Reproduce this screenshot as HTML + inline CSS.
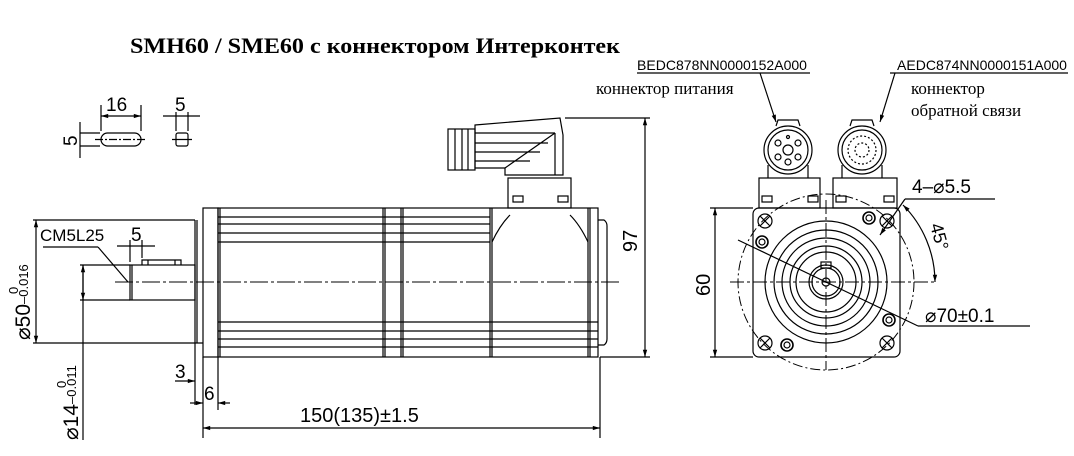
<!DOCTYPE html>
<html><head><meta charset="utf-8"><style>html,body{margin:0;padding:0;background:#fff}svg{display:block}</style></head>
<body>
<svg width="1074" height="456" viewBox="0 0 1074 456" xmlns="http://www.w3.org/2000/svg" font-family="Liberation Sans, sans-serif">
<defs>
<marker id="a" viewBox="0 0 10 10" refX="10" refY="5" markerWidth="8" markerHeight="6" orient="auto-start-reverse"><path d="M0,2 L10,5 L0,8z" fill="#000"/></marker>
</defs>
<rect width="1074" height="456" fill="#fff"/>
<text x="130" y="53" font-family="Liberation Serif, serif" font-weight="bold" font-size="22" textLength="490" lengthAdjust="spacingAndGlyphs">SMH60 / SME60 с коннектором Интерконтек</text>
<g fill="none" stroke="#000" stroke-width="1.2">
<!-- key detail -->
<rect x="101" y="133" width="40" height="13" rx="6.5"/>
<line x1="95" y1="139.5" x2="147" y2="139.5" stroke-dasharray="8 2 2 2"/>
<line x1="101" y1="105" x2="101" y2="131"/><line x1="141" y1="105" x2="141" y2="131"/>
<line x1="101" y1="116" x2="141" y2="116" marker-start="url(#a)" marker-end="url(#a)"/>
<rect x="176" y="133" width="12" height="13" rx="2"/>
<line x1="172" y1="139.5" x2="192" y2="139.5"/>
<line x1="176" y1="112" x2="176" y2="131"/><line x1="188" y1="112" x2="188" y2="131"/>
<line x1="163" y1="116" x2="200" y2="116"/>
<line x1="80" y1="133" x2="100" y2="133"/><line x1="80" y1="146" x2="100" y2="146"/>
<line x1="80" y1="122" x2="80" y2="158"/>
<!-- flange & body -->
<rect x="203" y="208" width="15" height="149"/>
<rect x="218" y="208" width="380" height="149"/>
<line x1="220" y1="208" x2="220" y2="357"/>
<path d="M218 217H490M218 224H490M218 233H490M218 242H490"/>
<path d="M218 322H598M218 331H598M218 339H598M218 347H598"/>
<path d="M383 208V357M385 208V357M401 208V357M403 208V357M490 208V357M492 208V357M588 208V357M590 208V357"/>
<path d="M492 242 Q500 225 510 215 M588 242 Q580 225 570 215"/>
<path d="M598 220 H604 Q607 222 607 226 V339 Q607 343 604 345 H598"/>
<!-- shaft -->
<rect x="130" y="265" width="65" height="35"/>
<line x1="132" y1="265" x2="132" y2="300"/>
<path d="M142 265V260H181V265M148 260V265M175 260V265"/>
<line x1="195" y1="220" x2="195" y2="343"/>
<line x1="197" y1="220" x2="197" y2="343"/>
<line x1="115" y1="282" x2="620" y2="282" stroke-dasharray="18 3 3 3" stroke-width="1"/>
<!-- side connector -->
<rect x="448" y="129" width="27" height="41"/>
<path d="M455 129V170M462 129V170M468 129V170"/>
<path d="M475 125 L560 118 L563 135 V175 H505 V168 H475Z"/>
<path d="M475 133H555M475 143H548M475 152H540M475 161H530M505 168L555 133M555 133V175"/>
<rect x="508" y="178" width="63" height="30"/>
<rect x="513" y="196" width="10" height="6"/><rect x="558" y="196" width="10" height="6"/>
<!-- dims left -->
<line x1="33" y1="220" x2="195" y2="220"/><line x1="33" y1="343" x2="203" y2="343"/>
<line x1="36" y1="220" x2="36" y2="343" marker-start="url(#a)" marker-end="url(#a)"/>
<line x1="80" y1="265" x2="130" y2="265"/><line x1="80" y1="300" x2="130" y2="300"/>
<line x1="83" y1="265" x2="83" y2="440"/>
<line x1="83" y1="282" x2="83" y2="265" marker-end="url(#a)"/>
<line x1="83" y1="282" x2="83" y2="300" marker-end="url(#a)"/>
<line x1="43" y1="247" x2="98" y2="247"/><line x1="98" y1="247" x2="128" y2="282"/>
<line x1="117" y1="246" x2="155" y2="246"/>
<line x1="130" y1="240" x2="130" y2="262"/><line x1="142" y1="240" x2="142" y2="258"/>
<line x1="195" y1="343" x2="195" y2="405"/><line x1="203" y1="357" x2="203" y2="438"/><line x1="218" y1="357" x2="218" y2="410"/>
<line x1="175" y1="381" x2="195" y2="381" marker-end="url(#a)"/>
<line x1="190" y1="403" x2="203" y2="403" marker-end="url(#a)"/>
<line x1="230" y1="403" x2="218" y2="403" marker-end="url(#a)"/>
<line x1="600" y1="357" x2="600" y2="438"/>
<line x1="203" y1="428" x2="600" y2="428" marker-start="url(#a)" marker-end="url(#a)"/>
<line x1="565" y1="118" x2="650" y2="118"/><line x1="600" y1="357" x2="650" y2="357"/>
<line x1="645" y1="118" x2="645" y2="357" marker-start="url(#a)" marker-end="url(#a)"/>
<!-- front view -->
<rect x="753" y="208" width="147" height="149" rx="6"/>
<circle cx="826" cy="282" r="88" stroke-dasharray="10 3 2 3" stroke-width="1"/>
<circle cx="826" cy="282" r="61"/><circle cx="826" cy="282" r="52"/>
<circle cx="826" cy="282" r="44"/><circle cx="826" cy="282" r="36"/><circle cx="826" cy="282" r="30"/>
<circle cx="826" cy="282" r="17"/><circle cx="826" cy="282" r="14"/><circle cx="826" cy="282" r="4"/>
<rect x="821" y="262" width="10" height="6"/>
<path d="M826 200V370M730 282H935" stroke-dasharray="14 3 3 3" stroke-width="1"/>
<g><circle cx="765" cy="221" r="7"/><circle cx="887" cy="221" r="7"/><circle cx="765" cy="343" r="7"/><circle cx="887" cy="343" r="7"/>
<path d="M760 216l10 10M770 216l-10 10M882 216l10 10M892 216l-10 10M760 338l10 10M770 338l-10 10M882 338l10 10M892 338l-10 10"/></g>
<g stroke-width="1.6"><circle cx="762" cy="242" r="6"/><circle cx="869" cy="218" r="6"/><circle cx="889" cy="320" r="6"/><circle cx="787" cy="345" r="6"/></g>
<circle cx="762" cy="242" r="3"/><circle cx="869" cy="218" r="3"/><circle cx="889" cy="320" r="3"/><circle cx="787" cy="345" r="3"/>
<!-- front connectors -->
<circle cx="788" cy="150" r="24"/><circle cx="788" cy="150" r="20"/>
<circle cx="788" cy="150" r="5"/><circle cx="778" cy="143" r="3"/><circle cx="798" cy="143" r="3"/><circle cx="778" cy="157" r="3"/><circle cx="798" cy="157" r="3"/><circle cx="788" cy="162" r="3"/><circle cx="788" cy="137" r="1.5"/>
<path d="M776 126 L778 120 H798 L800 126"/>
<path d="M768 165 V178 M808 165 V178"/>
<rect x="759" y="178" width="61" height="30"/>
<circle cx="862" cy="150" r="24"/><circle cx="862" cy="150" r="20"/><circle cx="862" cy="150" r="14" stroke-dasharray="2 2"/><circle cx="862" cy="150" r="7" stroke-dasharray="2 2"/>
<path d="M850 126 L852 120 H872 L874 126"/>
<path d="M842 165 V178 M882 165 V178"/>
<rect x="833" y="178" width="64" height="30"/>
<rect x="762" y="196" width="10" height="6"/><rect x="808" y="196" width="10" height="6"/><rect x="836" y="196" width="10" height="6"/><rect x="884" y="196" width="10" height="6"/>
<!-- front dims -->
<line x1="710" y1="208" x2="753" y2="208"/><line x1="710" y1="357" x2="753" y2="357"/>
<line x1="715" y1="208" x2="715" y2="357" marker-start="url(#a)" marker-end="url(#a)"/>
<line x1="905" y1="199" x2="995" y2="199"/><line x1="905" y1="199" x2="880" y2="235" marker-end="url(#a)"/>
<path d="M903 205 A110 110 0 0 1 935 282" marker-start="url(#a)" marker-end="url(#a)"/>
<line x1="738" y1="240" x2="918" y2="326"/><line x1="918" y1="326" x2="1030" y2="326"/>
<line x1="637" y1="73" x2="810" y2="73"/><line x1="760" y1="73" x2="776" y2="122" marker-end="url(#a)"/>
<line x1="890" y1="73" x2="1068" y2="73"/><line x1="895" y1="73" x2="880" y2="122" marker-end="url(#a)"/>
</g>
<g font-size="19" fill="#000">
<text x="106" y="111">16</text>
<text x="175" y="111">5</text>
<text transform="translate(77,146) rotate(-90)">5</text>
<text x="40" y="241" font-size="17">CM5L25</text>
<text x="131" y="241">5</text>
<text x="175" y="378">3</text>
<text x="204" y="400">6</text>
<text x="300" y="422" font-size="20">150(135)±1.5</text>
<text transform="translate(637,252) rotate(-90)" font-size="20">97</text>
<text transform="translate(710,296) rotate(-90)" font-size="20">60</text>
<text transform="translate(30,340) rotate(-90)" font-size="21">⌀50<tspan font-size="13" dy="-2">–0.016</tspan></text>
<text transform="translate(18,294) rotate(-90)" font-size="13">0</text>
<text transform="translate(78,440) rotate(-90)" font-size="21">⌀14<tspan font-size="13" dy="-2">–0.011</tspan></text>
<text transform="translate(66,388) rotate(-90)" font-size="13">0</text>
<text x="912" y="193" font-size="19">4–⌀5.5</text>
<text transform="translate(930,225) rotate(75)" font-size="18">45°</text>
<text x="925" y="322" font-size="19">⌀70±0.1</text>
</g>
<g font-size="14"><text x="637" y="70" textLength="170" lengthAdjust="spacingAndGlyphs">BEDC878NN0000152A000</text>
<text x="897" y="70" textLength="170" lengthAdjust="spacingAndGlyphs">AEDC874NN0000151A000</text></g>
<g font-family="Liberation Serif, serif" font-size="17">
<text x="596" y="94">коннектор питания</text>
<text x="911" y="94">коннектор</text>
<text x="911" y="116">обратной связи</text>
</g>
</svg>
</body></html>
